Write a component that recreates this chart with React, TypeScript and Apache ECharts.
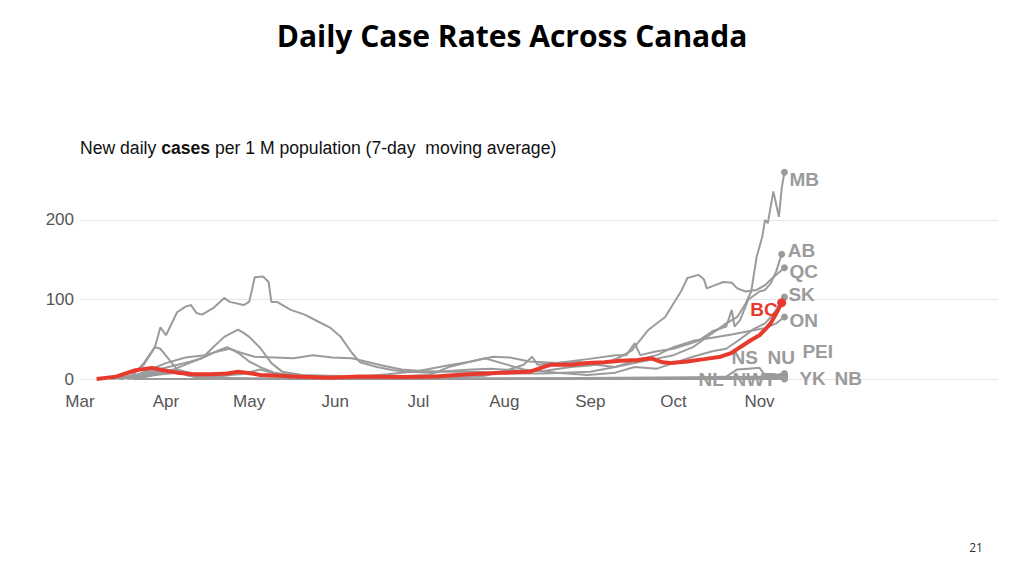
import React, { useEffect, useRef } from "react";
import * as echarts from "echarts";

// ---------- data (per 1M population, 7-day avg) ----------
const MONTH_NAMES = ["Jan", "Feb", "Mar", "Apr", "May", "Jun", "Jul", "Aug", "Sep", "Oct", "Nov", "Dec"];
const MONTH_TICKS = ["3-1", "4-1", "5-1", "6-1", "7-1", "8-1", "9-1", "10-1", "11-1"];
const AXIS_START = "3-1";
const AXIS_END_DAYS = 331; // days after Mar 1 where the plot area ends (~Jan 26)
const Y_MAX = 265;
const Y_STEP = 100;

const QC: [string, number][] = [
  ["3-15", 0], ["3-20", 5], ["3-24", 18], ["3-28", 40], ["3-30", 65], ["4-1", 55], ["4-5", 84], ["4-8", 91],
  ["4-10", 93], ["4-12", 83], ["4-14", 81], ["4-18", 89], ["4-22", 102], ["4-24", 97], ["4-29", 93], ["5-1", 97],
  ["5-2", 112], ["5-3", 128], ["5-6", 129], ["5-8", 122], ["5-9", 97], ["5-11", 97], ["5-16", 87], ["5-21", 81],
  ["5-26", 72], ["5-30", 65], ["6-3", 53], ["6-7", 33], ["6-10", 21], ["6-16", 15], ["6-22", 11], ["6-28", 9],
  ["7-5", 8], ["7-12", 10], ["7-20", 12], ["7-27", 13], ["8-5", 11], ["8-15", 10], ["8-25", 15], ["9-1", 17],
  ["9-8", 22], ["9-12", 28], ["9-16", 36], ["9-22", 62], ["9-28", 78], ["10-4", 112], ["10-6", 127], ["10-10", 131],
  ["10-12", 125], ["10-13", 114], ["10-16", 118], ["10-19", 122], ["10-22", 121], ["10-24", 114], ["10-27", 110],
  ["10-31", 112], ["11-3", 118], ["11-6", 128], ["11-10", 140],
];
const BC: [string, number][] = [
  ["3-7", 0], ["3-14", 3], ["3-21", 11], ["3-27", 14], ["3-31", 11], ["4-5", 8], ["4-11", 6], ["4-17", 6],
  ["4-23", 7], ["4-27", 9], ["5-2", 7], ["5-5", 5], ["5-12", 4], ["5-17", 3], ["5-30", 1.5], ["6-10", 3],
  ["6-25", 2.5], ["7-7", 3], ["7-19", 6], ["7-31", 8], ["8-10", 9], ["8-15", 15], ["8-18", 18], ["8-25", 18],
  ["8-31", 20], ["9-6", 21], ["9-12", 23], ["9-18", 24], ["9-23", 26], ["9-27", 21], ["9-30", 20], ["10-6", 22],
  ["10-12", 25], ["10-18", 28], ["10-22", 33], ["10-25", 40], ["10-29", 49], ["11-1", 55], ["11-3", 62],
  ["11-5", 70], ["11-7", 82], ["11-9", 96],
];
const ON: [string, number][] = [
  ["3-12", 0], ["3-20", 3], ["3-25", 10], ["4-1", 20], ["4-8", 27], ["4-15", 30], ["4-20", 35], ["4-24", 38],
  ["4-28", 33], ["5-3", 28], ["5-10", 27], ["5-17", 26], ["5-24", 30], ["5-31", 27], ["6-7", 26], ["6-12", 22],
  ["6-18", 17], ["6-25", 12], ["7-2", 10], ["7-12", 9], ["7-22", 9], ["8-1", 7], ["8-15", 7], ["9-1", 9],
  ["9-10", 15], ["9-18", 24], ["9-25", 30], ["10-1", 40], ["10-8", 48], ["10-15", 52], ["10-22", 56],
  ["10-28", 60], ["11-3", 64], ["11-7", 70], ["11-10", 78],
];
const AB: [string, number][] = [
  ["3-12", 0], ["3-20", 4], ["3-27", 10], ["4-3", 16], ["4-10", 22], ["4-14", 26], ["4-18", 40], ["4-22", 53],
  ["4-27", 62], ["4-29", 58], ["5-1", 53], ["5-5", 39], ["5-9", 20], ["5-13", 9], ["5-20", 5], ["5-30", 4],
  ["6-10", 3], ["6-20", 6], ["7-1", 10], ["7-10", 16], ["7-20", 22], ["7-28", 28], ["8-3", 27], ["8-10", 22],
  ["8-20", 20], ["8-31", 25], ["9-10", 30], ["9-14", 30], ["9-17", 45], ["9-19", 30], ["9-25", 35], ["10-1", 38],
  ["10-10", 48], ["10-15", 60], ["10-20", 66], ["10-22", 87], ["10-23", 66], ["10-25", 74], ["10-28", 100],
  ["11-1", 110], ["11-3", 112], ["11-5", 120], ["11-7", 135], ["11-9", 157],
];
const SK: [string, number][] = [
  ["3-15", 0], ["3-22", 3], ["3-28", 6], ["4-4", 8], ["4-12", 5], ["4-20", 4], ["4-28", 6], ["5-5", 12],
  ["5-10", 7], ["5-20", 4], ["6-1", 2], ["6-15", 1], ["6-25", 3], ["7-5", 5], ["7-12", 15], ["7-20", 22],
  ["7-25", 26], ["7-31", 20], ["8-8", 12], ["8-20", 8], ["8-31", 5], ["9-10", 8], ["9-17", 15], ["9-25", 13],
  ["10-1", 20], ["10-8", 28], ["10-15", 35], ["10-20", 38], ["10-25", 50], ["10-30", 63], ["11-3", 70],
  ["11-6", 82], ["11-10", 103],
];
const MB: [string, number][] = [
  ["3-15", 0], ["3-25", 5], ["4-3", 8], ["4-12", 5], ["4-25", 1], ["5-10", 0.5], ["6-1", 0.3], ["6-20", 0.5],
  ["7-10", 1], ["7-25", 4], ["8-1", 10], ["8-8", 18], ["8-11", 28], ["8-13", 18], ["8-20", 20], ["8-27", 22],
  ["9-3", 18], ["9-10", 15], ["9-17", 20], ["9-24", 25], ["10-1", 30], ["10-8", 40], ["10-14", 55], ["10-20", 70],
  ["10-24", 78], ["10-27", 95], ["10-29", 110], ["10-31", 154], ["11-2", 179], ["11-3", 200], ["11-4", 196],
  ["11-6", 236], ["11-8", 204], ["11-9", 240], ["11-10", 260],
];
const NS: [string, number][] = [
  ["3-18", 0], ["3-25", 3], ["4-1", 8], ["4-8", 18], ["4-15", 28], ["4-20", 36], ["4-23", 40], ["4-27", 33],
  ["5-1", 22], ["5-5", 15], ["5-10", 8], ["5-20", 3], ["6-1", 1], ["6-20", 0], ["10-20", 0.5], ["11-10", 2],
];
const NL: [string, number][] = [
  ["3-15", 0], ["3-20", 5], ["3-24", 20], ["3-28", 40], ["3-30", 38], ["4-2", 25], ["4-5", 12], ["4-9", 4],
  ["4-15", 1], ["5-1", 0.5], ["6-1", 0], ["8-1", 0.3], ["10-1", 0.3], ["11-10", 1],
];
const NB: [string, number][] = [
  ["3-15", 0], ["3-25", 5], ["4-1", 10], ["4-8", 6], ["4-15", 1], ["5-1", 0], ["5-27", 0], ["6-1", 3],
  ["6-8", 2], ["6-15", 0], ["10-5", 0.5], ["10-20", 3], ["10-24", 12], ["10-28", 13], ["11-1", 14],
  ["11-3", 5], ["11-10", 4],
];
const PEI: [string, number][] = [
  ["3-20", 0], ["3-28", 8], ["4-5", 10], ["4-15", 3], ["5-1", 0], ["7-1", 2], ["7-10", 1], ["8-1", 0.5], ["11-10", 3],
];
const YK: [string, number][] = [
  ["3-20", 0], ["3-28", 10], ["4-5", 12], ["4-15", 3], ["4-25", 0], ["7-1", 0], ["10-15", 0], ["11-1", 2], ["11-10", 7],
];
const NWT: [string, number][] = [
  ["3-20", 0], ["3-28", 5], ["4-5", 8], ["4-15", 0], ["11-10", 0],
];
const NU: [string, number][] = [
  ["3-20", 0], ["11-5", 0], ["11-8", 3], ["11-10", 5],
];

const PROVINCES: { name: string; data: [string, number][] }[] = [
  { name: "NU", data: NU }, { name: "NWT", data: NWT }, { name: "YK", data: YK }, { name: "PEI", data: PEI },
  { name: "NB", data: NB }, { name: "NL", data: NL }, { name: "NS", data: NS }, { name: "SK", data: SK },
  { name: "MB", data: MB }, { name: "ON", data: ON }, { name: "AB", data: AB }, { name: "QC", data: QC },
  { name: "BC", data: BC },
];

// ---------- helpers ----------
const DAY_MS = 86400000;
const toDayIndex = (md: string) => {
  const [m, d] = md.split("-").map(Number);
  const [m0, d0] = AXIS_START.split("-").map(Number);
  return Math.round((Date.UTC(2020, m - 1, d) - Date.UTC(2020, m0 - 1, d0)) / DAY_MS);
};
const monthOfDayIndex = (idx: number) => {
  const [m0, d0] = AXIS_START.split("-").map(Number);
  const dt = new Date(Date.UTC(2020, m0 - 1, d0) + Math.round(idx) * DAY_MS);
  return MONTH_NAMES[dt.getUTCMonth()];
};

// ---------- styling ----------
const GREY = "#9b9b9b";
const RED = "#e8392d";
const LABEL_OFFSETS: Record<string, [number, number]> = {
  MB: [1.5, 7], AB: [2.5, -4], QC: [1.5, 4], SK: [0.5, -3], BC: [-36, 7], ON: [1.5, 4],
  NS: [-56.5, -20], NU: [-20.5, -18], PEI: [14.5, -25.5], NL: [-89.5, 1], NWT: [-55.5, 0],
  YK: [11.5, 5.5], NB: [46.5, 3],
};
const SANS = "'Liberation Sans', Arial, Helvetica, sans-serif";

export default function App() {
  const ref = useRef<HTMLDivElement>(null);

  useEffect(() => {
    document.body.style.margin = "0";
    if (!ref.current) return;
    const chart = echarts.init(ref.current, null, { renderer: "svg" });

    const series = PROVINCES.map((p) => {
      const isBC = p.name === "BC";
      const color = isBC ? RED : GREY;
      const last = p.data.length - 1;
      const symbolSize = isBC ? 9 : 7;
      const data = p.data.map(([d, v], i) => {
        const value = [toDayIndex(d), v];
        if (i !== last) return value;
        return {
          value,
          symbol: "circle",
          symbolSize,
          label: {
            show: true,
            formatter: p.name,
            position: "right",
            distance: 0,
            offset: LABEL_OFFSETS[p.name],
            color,
            fontFamily: SANS,
            fontWeight: "bold",
            fontSize: 19,
          },
        };
      });
      return {
        name: p.name,
        type: "line",
        data,
        symbol: "none",
        showSymbol: true,
        silent: true,
        z: isBC ? 5 : 2,
        itemStyle: { color },
        lineStyle: { color, width: isBC ? 4 : 2 },
        label: { show: false },
        emphasis: { disabled: true },
      };
    });

    chart.setOption({
      animation: false,
      backgroundColor: "#ffffff",
      title: [
        {
          text: "Daily Case Rates Across Canada",
          left: "center",
          top: 20,
          padding: 0,
          textStyle: { fontFamily: "'Open Sans', sans-serif", fontWeight: "bold", fontSize: 30, color: "#000" },
        },
        {
          text: "New daily {b|cases} per 1 M population (7-day  moving average)",
          left: 80,
          top: 139,
          padding: 0,
          textStyle: {
            fontFamily: SANS,
            fontWeight: "normal",
            fontSize: 17.6,
            color: "#111",
            rich: { b: { fontFamily: SANS, fontWeight: "bold", fontSize: 17.6, color: "#111" } },
          },
        },
      ],
      graphic: [
        {
          type: "text",
          x: 976,
          y: 547,
          style: {
            text: "21",
            fill: "#333",
            font: "12px 'Open Sans', sans-serif",
            align: "center",
            verticalAlign: "middle",
          },
        },
      ],
      grid: { left: 80, right: 26, top: 168.3, bottom: 196, containLabel: false },
      xAxis: {
        type: "value",
        min: 0,
        max: AXIS_END_DAYS,
        axisLine: { show: false },
        axisTick: { show: false },
        splitLine: { show: false },
        axisLabel: {
          customValues: MONTH_TICKS.map(toDayIndex),
          formatter: (v: number) => monthOfDayIndex(v),
          color: "#555",
          fontFamily: SANS,
          fontSize: 17,
          margin: 14,
          hideOverlap: false,
        },
      },
      yAxis: {
        type: "value",
        min: 0,
        max: Y_MAX,
        interval: Y_STEP,
        axisLine: { show: false },
        axisTick: { show: false },
        axisLabel: {
          color: "#555",
          fontFamily: SANS,
          fontSize: 17,
          margin: 6,
          showMaxLabel: false,
        },
        splitLine: { show: true, showMaxLine: false, showMinLine: true, lineStyle: { color: "#e6e6e6", width: 1 } },
      },
      series,
    });

    return () => chart.dispose();
  }, []);

  return <div ref={ref} style={{ position: "absolute", left: 0, top: 0, width: 1024, height: 575 }} />;
}
